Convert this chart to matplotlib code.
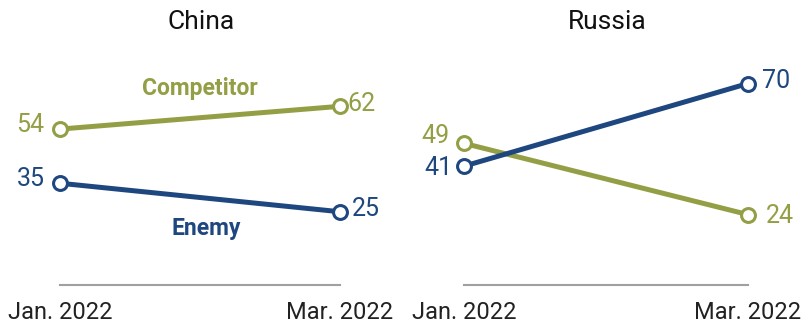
import matplotlib.pyplot as plt

plt.rcParams['font.family'] = ['Roboto', 'DejaVu Sans']

periods = ['Jan. 2022', 'Mar. 2022']
countries = ['China', 'Russia']
competitor = {'China': [54, 62], 'Russia': [49, 24]}
enemy = {'China': [35, 25], 'Russia': [41, 70]}

GREEN = '#949f45'
BLUE = '#1f477f'
GRAY = '#a0a0a0'

W, H = 808, 326
fig = plt.figure(figsize=(W / 100, H / 100), dpi=100)

# axes boxes in pixels: (x of Jan, x of Mar), plus title centre x
boxes = {'China': (60, 340, 201), 'Russia': (464, 748, 607)}
y0_px, y70_px = 283, 83.5

# value label offsets in pixels (dx, dy, align)
offsets = {
    ('China', 'comp'): [(-16, 4, 'right'), (7, 2, 'left')],
    ('China', 'enemy'): [(-15, 4, 'right'), (12, 3, 'left')],
    ('Russia', 'comp'): [(-14, 7, 'right'), (18, -1, 'left')],
    ('Russia', 'enemy'): [(-11, -2, 'right'), (14, 2, 'left')],
}

px = 0.72  # points per pixel at 100 dpi

for c in countries:
    left, right, tx = boxes[c]
    ax = fig.add_axes([left / W, (H - y0_px) / H, (right - left) / W, (y0_px - y70_px) / H])
    ax.set_xlim(0, 1)
    ax.set_ylim(0, 70)
    for s in ax.spines.values():
        s.set_visible(False)
    ax.set_yticks([])
    ax.set_xticks([0, 1])
    ax.set_xticklabels(periods, fontsize=17, color='#222222')
    ax.tick_params(axis='x', length=0, pad=13)
    ax.axhline(-0.7, color=GRAY, lw=1.5, clip_on=False)

    x = [0, 1]
    for key, vals, col in [('comp', competitor[c], GREEN), ('enemy', enemy[c], BLUE)]:
        ax.plot(x, vals, color=col, lw=3.6, marker='o', ms=10, mfc='white',
                mec=col, mew=2.2, clip_on=False, solid_capstyle='round', zorder=3)
        for xi, v, (dx, dy, ha) in zip(x, vals, offsets[(c, key)]):
            ax.annotate(str(v), (xi, v), xytext=(dx * px, dy * px), textcoords='offset points',
                        ha=ha, va='center', fontsize=18, color=col)

    fig.text(tx / W, 1 - 22 / H, c, ha='center', va='center', fontsize=19, color='#111111')

fig.text(200 / W, 1 - 88 / H, 'Competitor', ha='center', va='center', fontsize=16.5,
         fontweight='bold', color=GREEN)
fig.text(206 / W, 1 - 229 / H, 'Enemy', ha='center', va='center', fontsize=16.5,
         fontweight='bold', color=BLUE)

fig.savefig('out.png', dpi=100)
